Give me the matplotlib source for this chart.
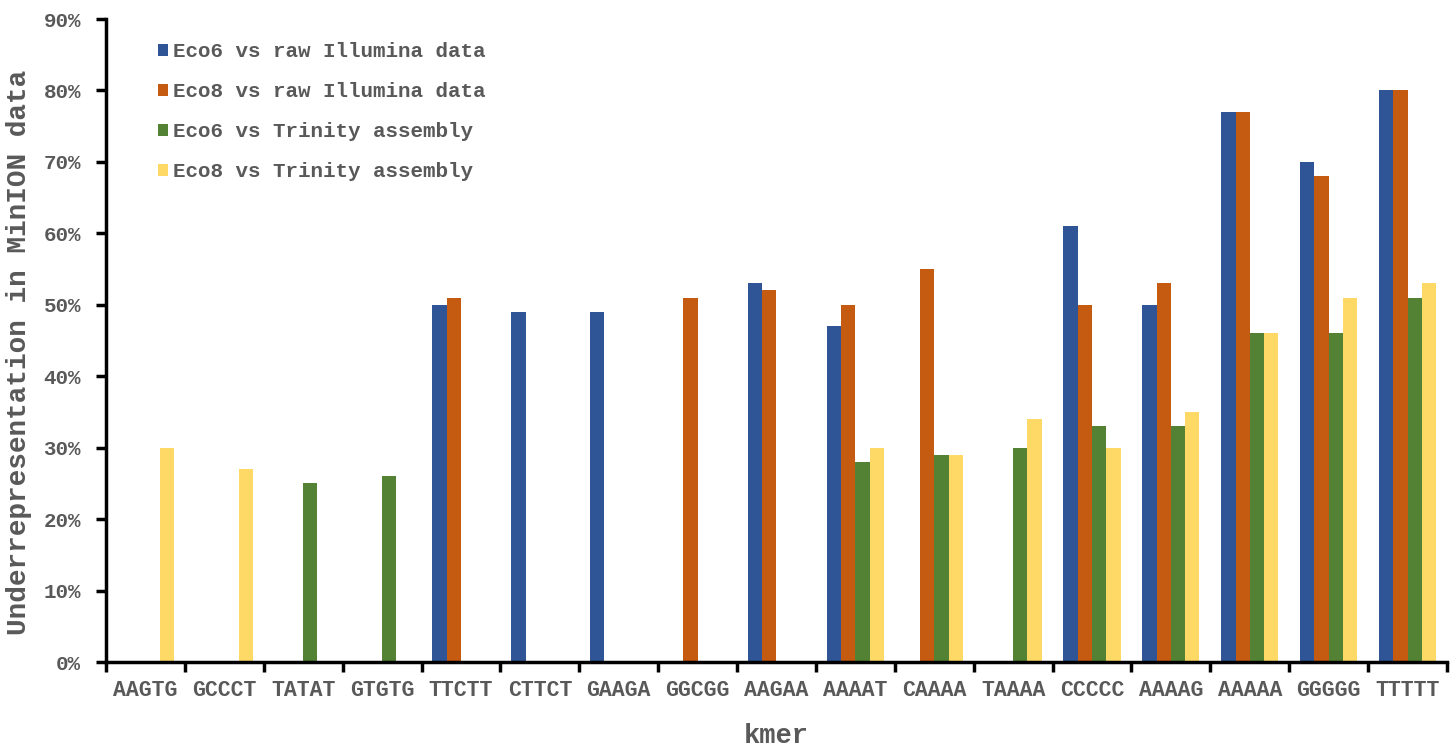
import matplotlib
matplotlib.use("Agg")
import matplotlib.pyplot as plt
import numpy as np
from matplotlib.ticker import FuncFormatter

kmers = ["AAGTG", "GCCCT", "TATAT", "GTGTG", "TTCTT", "CTTCT", "GAAGA", "GGCGG", "AAGAA",
         "AAAAT", "CAAAA", "TAAAA", "CCCCC", "AAAAG", "AAAAA", "GGGGG", "TTTTT"]
eco6_raw = [0, 0, 0, 0, 50, 49, 49, 0, 53, 47, 0, 0, 61, 50, 77, 70, 80]
eco8_raw = [0, 0, 0, 0, 51, 0, 0, 51, 52, 50, 55, 0, 50, 53, 77, 68, 80]
eco6_trin = [0, 0, 25, 26, 0, 0, 0, 0, 0, 28, 29, 30, 33, 33, 46, 46, 51]
eco8_trin = [30, 27, 0, 0, 0, 0, 0, 0, 0, 30, 29, 34, 30, 35, 46, 51, 53]
series_names = ["Eco6 vs raw Illumina data", "Eco8 vs raw Illumina data",
                "Eco6 vs Trinity assembly", "Eco8 vs Trinity assembly"]
colors = ["#2F5597", "#C55A11", "#548235", "#FFD966"]

font = "Liberation Mono"
gray = "#595959"

fig = plt.figure(figsize=(14.55, 7.5), dpi=100)
ax = fig.add_axes([106/1455, 1-662/750, (1447-106)/1455, (662-19)/750])

x = np.arange(len(kmers))
w = 0.181
data = [eco6_raw, eco8_raw, eco6_trin, eco8_trin]
for i, (vals, c, name) in enumerate(zip(data, colors, series_names)):
    ax.bar(x + (i - 1.5) * w, vals, width=w, color=c, label=name, linewidth=0)

ax.set_xlim(-0.5, len(kmers) - 0.5)
ax.set_ylim(0, 90)
ax.set_yticks(np.arange(0, 91, 10))
ax.yaxis.set_major_formatter(FuncFormatter(lambda v, p: f"{int(v)}%"))
ax.set_xticks(x)
ax.set_xticklabels(kmers)
ax.set_xticks(np.arange(-0.5, len(kmers), 1), minor=True)
ax.tick_params(axis="x", which="major", length=0, pad=13)
ax.tick_params(axis="x", which="minor", length=7, width=2.5, color="black")
ax.tick_params(axis="y", length=7, width=2.5, color="black", pad=11)

for lab in ax.get_xticklabels():
    lab.set_fontfamily(font); lab.set_fontweight("bold"); lab.set_fontsize(15.5); lab.set_color(gray)
for lab in ax.get_yticklabels():
    lab.set_fontfamily(font); lab.set_fontweight("bold"); lab.set_fontsize(15); lab.set_color(gray)

for s in ["top", "right"]:
    ax.spines[s].set_visible(False)
for s in ["left", "bottom"]:
    ax.spines[s].set_linewidth(2.5)
    ax.spines[s].set_color("black")

ax.set_xlabel("kmer", fontfamily=font, fontweight="bold", fontsize=19.5, color=gray,
              va="center")
ax.xaxis.set_label_coords(0.5, -(736 - 662) / 643)
ax.set_ylabel("Underrepresentation in MinION data", fontfamily=font, fontweight="bold",
              fontsize=20, color=gray)
ax.yaxis.set_label_coords(-0.055, 1 - (352 - 19) / 643)

leg = ax.legend(loc="upper left", bbox_to_anchor=(0.0388, 0.964), frameon=False,
                prop={"family": font, "weight": "bold", "size": 15},
                handlelength=0.5, handleheight=0.5, handletextpad=0.22,
                labelspacing=1.01, borderpad=0, borderaxespad=0)
for t in leg.get_texts():
    t.set_color(gray)

fig.savefig("out.png", dpi=100)
